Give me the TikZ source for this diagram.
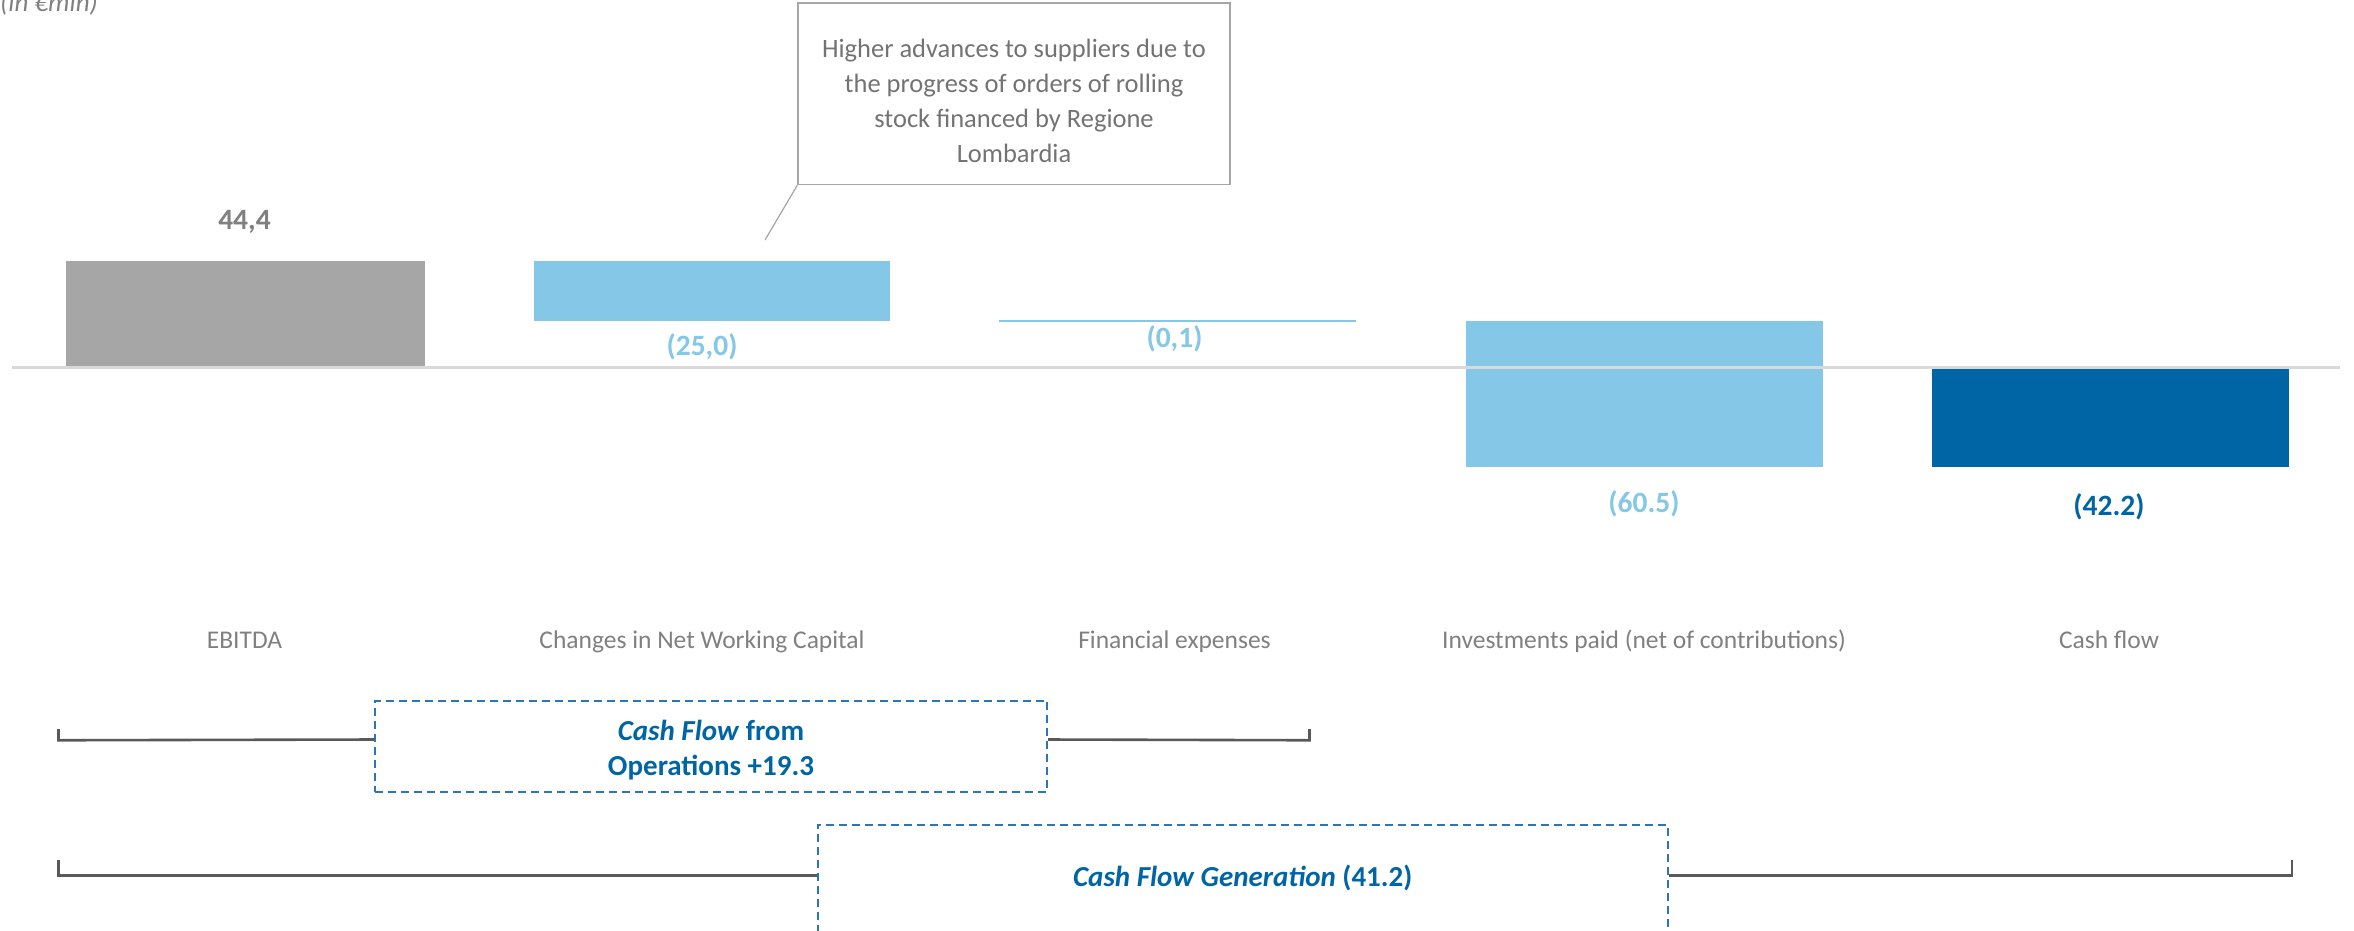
\documentclass[tikz,border=0pt]{standalone}
\usepackage{fontspec}
\setmainfont{Carlito}
\usetikzlibrary{positioning}
\definecolor{barGray}{HTML}{A6A6A6}
\definecolor{lightBlue}{HTML}{84C7E6}
\definecolor{darkBlue}{HTML}{0065A4}
\definecolor{dashBlue}{HTML}{2E75B6}
\definecolor{txtGray}{HTML}{808080}
\definecolor{baseGray}{HTML}{D9D9D9}
\definecolor{lineGray}{HTML}{595959}

\begin{document}
\begin{tikzpicture}[
    x=1.5pt, y=-1.5pt,
    every node/.style={
        inner sep=0pt,
        text=txtGray,
        font=\fontsize{25.5}{30}\selectfont
    },
    valLabel/.style={font=\fontsize{29.5}{34}\selectfont\bfseries},
    catLabel/.style={anchor=base},
    noteBox/.style={
        draw=barGray, line width=1.5pt,
        minimum width=432pt, minimum height=181.5pt
    },
    noteText/.style={align=center, text=txtGray!90!black,
        font=\fontsize{26.5}{35}\selectfont},
    sumBox/.style={
        draw=dashBlue, dash pattern=on 8pt off 5pt, line width=2pt
    },
    sumText/.style={
        align=center, text=darkBlue,
        font=\fontsize{29}{34.5}\selectfont\bfseries
    },
    bracket/.style={draw=lineGray, line width=2.6pt}
]
\useasboundingbox (0,0) rectangle (1569.33,620);

% bars
\fill[barGray] (44,174) rectangle (283,245);
\fill[lightBlue] (356,174) rectangle (593,214);
\fill[lightBlue] (666,213.3) rectangle (904,214.7);
\fill[lightBlue] (977,214) rectangle (1215,311);
\fill[darkBlue] (1288,245) rectangle (1526,311);
\draw[baseGray, line width=2.4pt] (8,245) -- (1560,245);

% values
\node[valLabel, text=txtGray] (ebitdaVal) at (163,148) {44,4};
\node[valLabel, text=lightBlue] (nwcVal) at (468,231) {(25,0)};
\node[valLabel, text=lightBlue] (finVal) at (783,226) {(0,1)};
\node[valLabel, text=lightBlue] (invVal) at (1096,336) {(60.5)};
\node[valLabel, text=darkBlue] (cfVal) at (1406,338) {(42.2)};

% categories
\node[catLabel] (ebitda) at (163,432) {EBITDA};
\node[catLabel] (nwc) at (468,432) {Changes in Net Working Capital};
\node[catLabel] (fin) at (783,432) {Financial expenses};
\node[catLabel] (inv) at (1096,432) {Investments paid (net of contributions)};
\node[catLabel] (cf) at (1406,432) {Cash flow};

\node[anchor=base west, font=\fontsize{27}{30}\selectfont\itshape] (unit) at (0,7.5) {(in €mln)};

% note on working capital
\node[noteBox] (note) at (676,62.5) {};
\node[noteText] (noteTxt) at (676,67) {Higher advances to suppliers due to\\
  the progress of orders of rolling\\ stock financed by Regione\\ Lombardia};
\coordinate (noteTip) at (510,160);
\draw[barGray, line width=1.2pt] (note.south west) -- (noteTip);

% brackets
\node[sumBox, minimum width=672pt, minimum height=91.5pt] (ops) at (474,497.5) {};
\node[sumText] (opsTxt) at (474,500) {\textit{Cash Flow} from\\ Operations +19.3};
\node[sumBox, minimum width=850.5pt, minimum height=109.5pt, anchor=north] (gen) at (828.5,549) {};
\node[sumText] (genTxt) at (828.5,585.5) {\textit{Cash Flow Generation} (41.2)};

\coordinate (opsL) at (39,486);
\coordinate (opsR) at (873,486);
\draw[bracket] (opsL) -- ++(0,7.5) -- (ops.west |- 0,493);
\draw[bracket] (opsR) -- ++(0,7.5) -- (ops.east |- 0,493);

\coordinate (genL) at (39,573);
\coordinate (genR) at (1528,573);
\draw[bracket] (genL) -- ++(0,10.5) -- (gen.west |- 0,583.5);
\draw[bracket] (genR) -- ++(0,10.5) -- (gen.east |- 0,583.5);
\end{tikzpicture}
\end{document}
